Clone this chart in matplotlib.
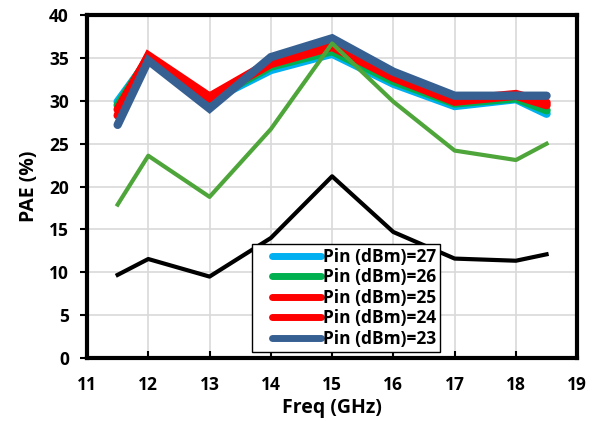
import numpy as np
import matplotlib.pyplot as plt
from matplotlib.lines import Line2D
from matplotlib.legend_handler import HandlerLine2D

plt.rcParams['font.family'] = ['Open Sans', 'DejaVu Sans']
plt.rcParams['font.weight'] = 'bold'

freq = [11.5, 12, 13, 14, 15, 16, 17, 18, 18.5]

# thick series (in legend)
pin27 = [29.9, 34.8, 30.0, 33.6, 35.5, 32.0, 29.4, 30.2, 28.5]
pin26 = [29.5, 35.0, 30.1, 34.0, 35.8, 32.3, 29.7, 30.3, 28.9]
pin25 = [29.0, 35.2, 30.3, 34.3, 36.3, 32.7, 29.9, 30.6, 29.5]
pin24 = [28.3, 35.3, 30.5, 34.6, 36.6, 33.0, 30.1, 30.8, 29.8]
pin23 = [27.2, 34.7, 29.1, 35.1, 37.3, 33.4, 30.6, 30.6, 30.6]

# thin series (not in legend)
pae_green = [17.9, 23.6, 18.8, 26.7, 36.7, 29.9, 24.2, 23.1, 25.0]
pae_black = [9.7, 11.55, 9.5, 14.0, 21.2, 14.7, 11.6, 11.35, 12.1]

labels = ['Pin (dBm)=27', 'Pin (dBm)=26', 'Pin (dBm)=25', 'Pin (dBm)=24', 'Pin (dBm)=23']
colors = ['#00B0F0', '#00B050', '#FF0000', '#FF0000', '#376092']


class PadHandler(HandlerLine2D):
    # leave some blank room left of the legend line
    def get_xdata(self, legend, xdescent, ydescent, width, height, fontsize):
        xd, xdm = super().get_xdata(legend, xdescent, ydescent, width, height, fontsize)
        return np.array([-xdescent + 0.24 * width, -xdescent + width]), xdm


fig = plt.figure(figsize=(6, 4.21), dpi=100)
ax = fig.add_axes([0.145, 0.1496, 0.817, 0.8144])

handles = []
for ys, c, lab in zip([pin27, pin26, pin25, pin24, pin23], colors, labels):
    ax.plot(freq, ys, c=c, lw=6, solid_capstyle='round', solid_joinstyle='miter', zorder=3)
    handles.append(Line2D([], [], c=c, lw=5, solid_capstyle='round', label=lab))

ax.plot(freq, pae_green, c='#4EA53A', lw=3, zorder=4)
ax.plot(freq, pae_black, c='k', lw=3, zorder=4)

ax.set_xlim(11, 19)
ax.set_ylim(0, 40)
ax.set_xticks(range(11, 20))
ax.set_yticks(range(0, 41, 5))
ax.grid(True, color='#d9d9d9', lw=1.2, zorder=0)
ax.set_axisbelow(True)
for s in ax.spines.values():
    s.set_linewidth(3)
ax.tick_params(axis='x', direction='in', length=5, width=1.5, labelsize=12.5, pad=13)
ax.tick_params(axis='y', direction='out', length=5, width=1.5, labelsize=12.5, pad=8)
for t in ax.get_xticklabels() + ax.get_yticklabels():
    t.set_fontweight('bold')

ax.set_xlabel('Freq (GHz)', fontsize=14, fontweight='bold', labelpad=3)
ax.set_ylabel('PAE (%)', fontsize=14, fontweight='bold', labelpad=7)

leg = ax.legend(handles=handles, loc='lower left', bbox_to_anchor=(0.337, 0.0175),
                borderaxespad=0, fancybox=False, framealpha=1, edgecolor='k',
                fontsize=12.5, handlelength=3.7, handletextpad=0.1,
                labelspacing=0.14, borderpad=0.25,
                handler_map={Line2D: PadHandler()})
leg.get_frame().set_linewidth(1)
leg.set_zorder(5)
for t in leg.get_texts():
    t.set_fontweight('bold')

plt.savefig('out.png', dpi=100)
